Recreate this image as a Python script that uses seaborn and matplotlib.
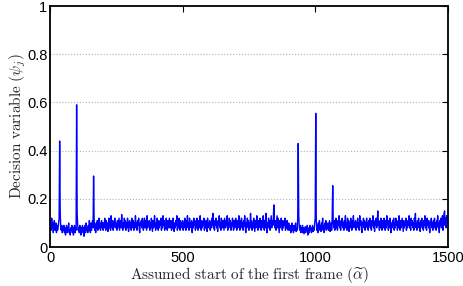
import numpy as np
import pandas as pd
import matplotlib
matplotlib.use('Agg')
import matplotlib.pyplot as plt
import seaborn as sns

# Decision variable, one value every 2 frames
x_step = 2
psi = [
    0.09, 0.11, 0.07, 0.12, 0.08, 0.10, 0.06, 0.09, 0.11, 0.07, 0.08, 0.10, 0.06, 0.09, 0.07, 0.08, 0.10, 0.12, 0.44, 0.15, 0.08, 0.07, 0.09, 0.06, 0.08,
    0.07, 0.09, 0.06, 0.08, 0.05, 0.07, 0.09, 0.06, 0.08, 0.07, 0.10, 0.06, 0.07, 0.05, 0.08, 0.07, 0.09, 0.06, 0.08, 0.05, 0.07, 0.09, 0.06, 0.08, 0.07,
    0.59, 0.14, 0.09, 0.07, 0.08, 0.06, 0.09, 0.07, 0.05, 0.08, 0.06, 0.09, 0.07, 0.08, 0.045, 0.07, 0.09, 0.06, 0.10, 0.07, 0.08, 0.06, 0.09, 0.07, 0.11,
    0.08, 0.06, 0.10, 0.07, 0.09, 0.11, 0.08, 0.295, 0.12, 0.07, 0.09, 0.06, 0.10, 0.08, 0.11, 0.07, 0.09, 0.12, 0.08, 0.10, 0.07, 0.09, 0.11, 0.08, 0.10,
    0.07, 0.10, 0.08, 0.12, 0.09, 0.07, 0.11, 0.08, 0.10, 0.065, 0.09, 0.12, 0.08, 0.10, 0.07, 0.13, 0.09, 0.08, 0.11, 0.07, 0.10, 0.09, 0.12, 0.08, 0.10,
    0.09, 0.07, 0.11, 0.08, 0.10, 0.12, 0.07, 0.09, 0.11, 0.08, 0.135, 0.09, 0.07, 0.10, 0.08, 0.12, 0.09, 0.11, 0.07, 0.10, 0.08, 0.12, 0.09, 0.065, 0.10,
    0.11, 0.08, 0.10, 0.07, 0.12, 0.09, 0.08, 0.11, 0.07, 0.10, 0.09, 0.13, 0.08, 0.10, 0.07, 0.11, 0.09, 0.12, 0.08, 0.06, 0.10, 0.09, 0.11, 0.08, 0.12,
    0.09, 0.07, 0.10, 0.12, 0.08, 0.11, 0.09, 0.07, 0.13, 0.08, 0.10, 0.09, 0.11, 0.07, 0.10, 0.08, 0.12, 0.09, 0.065, 0.11, 0.08, 0.10, 0.13, 0.09, 0.07,
    0.10, 0.08, 0.12, 0.09, 0.07, 0.11, 0.08, 0.10, 0.09, 0.12, 0.07, 0.10, 0.08, 0.13, 0.09, 0.11, 0.07, 0.10, 0.08, 0.12, 0.09, 0.07, 0.11, 0.08, 0.10,
    0.12, 0.08, 0.09, 0.11, 0.07, 0.10, 0.08, 0.12, 0.09, 0.065, 0.10, 0.08, 0.11, 0.09, 0.13, 0.07, 0.10, 0.08, 0.12, 0.09, 0.07, 0.11, 0.08, 0.10, 0.09,
    0.11, 0.07, 0.10, 0.08, 0.12, 0.09, 0.07, 0.11, 0.08, 0.13, 0.09, 0.10, 0.07, 0.12, 0.08, 0.10, 0.09, 0.11, 0.06, 0.10, 0.08, 0.12, 0.09, 0.11, 0.07,
    0.10, 0.08, 0.12, 0.09, 0.07, 0.11, 0.08, 0.10, 0.13, 0.09, 0.07, 0.11, 0.08, 0.10, 0.09, 0.12, 0.07, 0.10, 0.08, 0.11, 0.09, 0.065, 0.12, 0.08, 0.10,
    0.09, 0.11, 0.07, 0.10, 0.08, 0.12, 0.09, 0.14, 0.08, 0.10, 0.07, 0.11, 0.09, 0.12, 0.08, 0.10, 0.065, 0.11, 0.09, 0.13, 0.08, 0.10, 0.07, 0.12, 0.09,
    0.08, 0.11, 0.09, 0.07, 0.12, 0.10, 0.08, 0.11, 0.09, 0.13, 0.07, 0.10, 0.08, 0.12, 0.09, 0.11, 0.07, 0.10, 0.085, 0.12, 0.09, 0.07, 0.11, 0.08, 0.10,
    0.12, 0.09, 0.07, 0.11, 0.08, 0.10, 0.13, 0.09, 0.07, 0.11, 0.08, 0.12, 0.09, 0.10, 0.07, 0.11, 0.085, 0.13, 0.09, 0.06, 0.10, 0.08, 0.12, 0.09, 0.11,
    0.07, 0.10, 0.08, 0.14, 0.09, 0.11, 0.07, 0.10, 0.08, 0.12, 0.09, 0.065, 0.11, 0.08, 0.10, 0.13, 0.09, 0.07, 0.11, 0.08, 0.10, 0.12, 0.09, 0.07, 0.11,
    0.08, 0.10, 0.13, 0.09, 0.07, 0.11, 0.08, 0.14, 0.09, 0.06, 0.10, 0.08, 0.12, 0.09, 0.11, 0.07, 0.10, 0.13, 0.08, 0.11, 0.09, 0.12, 0.175, 0.10, 0.08,
    0.11, 0.07, 0.10, 0.13, 0.08, 0.12, 0.09, 0.06, 0.11, 0.08, 0.10, 0.12, 0.09, 0.07, 0.11, 0.08, 0.10, 0.09, 0.12, 0.07, 0.10, 0.08, 0.11, 0.09, 0.07,
    0.10, 0.08, 0.07, 0.09, 0.06, 0.08, 0.10, 0.07, 0.085, 0.06, 0.09, 0.07, 0.08, 0.10, 0.065, 0.08, 0.07, 0.12, 0.43, 0.13, 0.08, 0.07, 0.09, 0.06, 0.08,
    0.07, 0.09, 0.06, 0.08, 0.055, 0.07, 0.085, 0.06, 0.08, 0.07, 0.09, 0.05, 0.07, 0.08, 0.06, 0.09, 0.07, 0.08, 0.06, 0.075, 0.09, 0.065, 0.08, 0.07, 0.10,
    0.12, 0.555, 0.11, 0.07, 0.09, 0.06, 0.10, 0.08, 0.11, 0.07, 0.09, 0.065, 0.10, 0.08, 0.12, 0.07, 0.09, 0.06, 0.10, 0.08, 0.11, 0.07, 0.09, 0.08, 0.10,
    0.07, 0.09, 0.11, 0.065, 0.08, 0.10, 0.07, 0.12, 0.255, 0.10, 0.08, 0.11, 0.07, 0.09, 0.12, 0.08, 0.10, 0.07, 0.11, 0.09, 0.13, 0.08, 0.10, 0.07, 0.11,
    0.09, 0.12, 0.08, 0.10, 0.07, 0.11, 0.09, 0.13, 0.08, 0.10, 0.07, 0.12, 0.09, 0.11, 0.065, 0.10, 0.08, 0.12, 0.09, 0.07, 0.11, 0.08, 0.13, 0.09, 0.10,
    0.08, 0.11, 0.07, 0.10, 0.09, 0.12, 0.08, 0.10, 0.07, 0.13, 0.09, 0.11, 0.08, 0.06, 0.10, 0.09, 0.12, 0.08, 0.11, 0.07, 0.10, 0.09, 0.12, 0.08, 0.10,
    0.07, 0.11, 0.09, 0.12, 0.08, 0.10, 0.07, 0.11, 0.09, 0.13, 0.08, 0.10, 0.065, 0.11, 0.09, 0.12, 0.08, 0.10, 0.15, 0.09, 0.11, 0.07, 0.10, 0.08, 0.12,
    0.09, 0.07, 0.11, 0.08, 0.10, 0.12, 0.09, 0.07, 0.11, 0.08, 0.13, 0.09, 0.10, 0.07, 0.11, 0.08, 0.12, 0.09, 0.06, 0.10, 0.08, 0.11, 0.09, 0.12, 0.07,
    0.10, 0.08, 0.12, 0.09, 0.11, 0.07, 0.10, 0.08, 0.13, 0.09, 0.07, 0.11, 0.08, 0.10, 0.12, 0.09, 0.065, 0.11, 0.08, 0.10, 0.09, 0.12, 0.07, 0.10, 0.08,
    0.11, 0.09, 0.13, 0.08, 0.10, 0.07, 0.12, 0.09, 0.11, 0.08, 0.10, 0.07, 0.12, 0.09, 0.14, 0.08, 0.10, 0.07, 0.11, 0.09, 0.12, 0.08, 0.10, 0.065, 0.11,
    0.09, 0.12, 0.08, 0.10, 0.07, 0.11, 0.09, 0.13, 0.08, 0.10, 0.07, 0.12, 0.09, 0.11, 0.08, 0.10, 0.06, 0.11, 0.09, 0.12, 0.08, 0.10, 0.07, 0.11, 0.09,
    0.12, 0.08, 0.10, 0.07, 0.11, 0.09, 0.13, 0.08, 0.10, 0.06, 0.11, 0.09, 0.12, 0.08, 0.10, 0.13, 0.07, 0.11, 0.14, 0.15, 0.09, 0.12, 0.08, 0.13, 0.10,
    0.12,
]
x_ticks = [0, 500, 1000, 1500]
y_ticks = [0, 0.2, 0.4, 0.6, 0.8, 1]
y_tick_labels = ['0', '0.2', '0.4', '0.6', '0.8', '1']

sns.set_style('white')
plt.rcParams.update({
    'font.family': ['Liberation Sans', 'DejaVu Sans'],
    'mathtext.fontset': 'cm',
    'xtick.direction': 'in',
    'ytick.direction': 'in',
    'xtick.top': True,
    'ytick.right': True,
})

df = pd.DataFrame({'alpha': np.arange(len(psi)) * x_step, 'psi': psi})

fig = plt.figure(figsize=(4.64, 2.86), dpi=100)
ax = fig.add_axes([0.108, 0.136, 0.857, 0.843])
sns.lineplot(data=df, x='alpha', y='psi', color='#0000ff', linewidth=1.0, ax=ax)

ax.set_xlim(0, 1500)
ax.set_ylim(0, 1)
ax.set_xticks(x_ticks)
ax.set_yticks(y_ticks)
ax.set_yticklabels(y_tick_labels)
ax.tick_params(labelsize=10.5, length=4, width=0.8, colors='black')
ax.tick_params(axis='x', pad=3)
ax.tick_params(axis='y', pad=2)
ax.yaxis.grid(True, linestyle=':', color='#b0b0b0', linewidth=0.8)
for sp in ax.spines.values():
    sp.set_visible(True)
    sp.set_color('black')
    sp.set_linewidth(1.3)

ax.set_xlabel(r'$\mathrm{Assumed\ start\ of\ the\ first\ frame\ (}\widetilde{\alpha}\mathrm{)}$',
              fontsize=11, labelpad=0)
ax.set_ylabel(r'$\mathrm{Decision\ variable\ (}\psi_j\mathrm{)}$', fontsize=11, labelpad=-1)

fig.savefig('out.png', dpi=100)
